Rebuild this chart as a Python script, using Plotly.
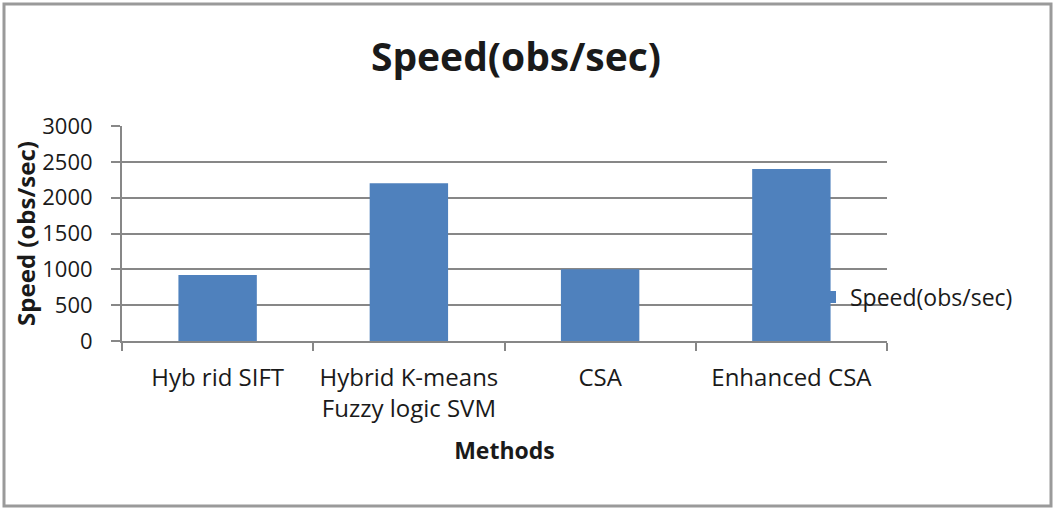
import plotly.graph_objects as go

categories = ["Hyb rid SIFT", "Hybrid K-means<br>Fuzzy logic SVM", "CSA", "Enhanced CSA"]
speed = [920, 2200, 1000, 2400]
series_name = "Speed(obs/sec)"
y_ticks = [0, 500, 1000, 1500, 2000, 2500, 3000]

W, H = 1056, 511
L, R, T, B = 122, 169, 126, 170
pw, ph = W - L - R, H - T - B

FONT = "Open Sans"
GRAY = "#878787"

fig = go.Figure()
fig.add_trace(go.Bar(x=categories, y=speed, name=series_name,
                     marker=dict(color="#4f81bd", line=dict(width=0))))

def px_x(p):
    return (p - L) / pw

def px_y(p):
    return (H - B - p) / ph

fig.update_layout(
    width=W, height=H,
    margin=dict(l=L, r=R, t=T, b=B),
    paper_bgcolor="white", plot_bgcolor="white",
    font=dict(family=FONT, size=24, color="#1a1a1a"),
    title=dict(text="<b>Speed(obs/sec)</b>", x=px_x(516), xanchor="center",
               xref="paper", y=1 - 57 / H, yanchor="middle",
               font=dict(family=FONT, size=39, color="#1a1a1a")),
    bargap=0.59,
    showlegend=True,
    legend=dict(x=px_x(810), y=px_y(297), xanchor="left", yanchor="middle",
                bgcolor="rgba(0,0,0,0)", font=dict(family=FONT, size=23),
                itemwidth=30),
    xaxis=dict(showgrid=False, showline=True, linecolor=GRAY, linewidth=2,
               ticks="outside", tickson="boundaries", ticklen=8, tickcolor=GRAY,
               tickwidth=2, tickfont=dict(size=24), ticklabelstandoff=14,
               title=dict(text="<b>Methods</b>", font=dict(size=23), standoff=20)),
    yaxis=dict(range=[0, 3000], tickvals=y_ticks, showgrid=True, gridcolor=GRAY,
               gridwidth=2, showline=True, linecolor=GRAY, linewidth=2,
               ticks="outside", ticklen=9, tickcolor=GRAY, tickwidth=2,
               tickfont=dict(size=22), zeroline=False, ticklabelstandoff=14,
               title=dict(text="<b>Speed (obs/sec)</b>", font=dict(size=24), standoff=0)),
)

fig.add_shape(type="rect", xref="paper", yref="paper",
              x0=px_x(4), x1=px_x(1051), y0=px_y(506), y1=px_y(4),
              line=dict(color="#9a9a9a", width=3), layer="below")

fig.write_html("out.html", config={"displayModeBar": False},
               post_script="document.body.style.margin='0';document.body.style.overflow='hidden';")
